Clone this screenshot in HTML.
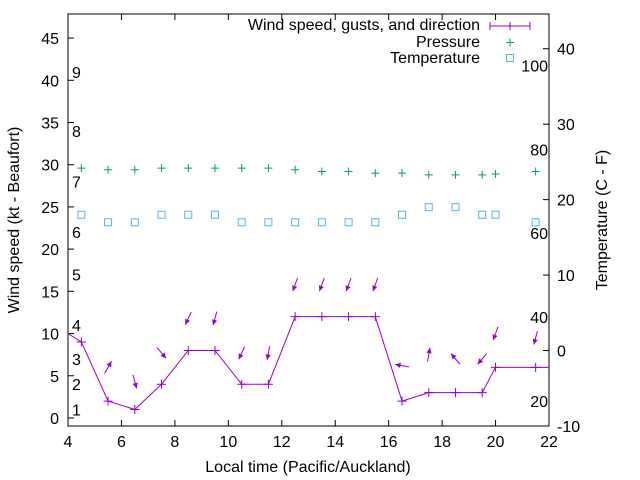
<!DOCTYPE html>
<html><head><meta charset="utf-8"><style>
body{margin:0;background:#fff}
svg{display:block;font-family:"Liberation Sans",sans-serif}
</style></head><body>
<svg id="chart" width="640" height="480" viewBox="0 0 640 480" xmlns="http://www.w3.org/2000/svg">
<g id="axes"></g>
<g id="series"></g>
</svg>
<script>
const times=[4.5,5.5,6.5,7.5,8.5,9.5,10.5,11.5,12.5,13.5,14.5,15.5,16.5,17.5,18.5,19.5,20,21.5];
const windSpeed=[9,2,1,4,8,8,4,4,12,12,12,12,2,3,3,3,6,6];
const gusts=[null,6,4.3,7.7,11.8,11.8,7.7,7.7,15.8,15.8,15.8,15.8,6.2,7.5,7,7,10,9.5];
const windDir=[null,30,165,140,205,195,205,190,200,200,200,200,280,10,320,220,200,195];
const pressure=[29.6,29.4,29.4,29.6,29.6,29.6,29.6,29.6,29.4,29.2,29.2,29.0,29.0,28.8,28.8,28.8,28.9,29.2];
const temperature=[18,17,17,18,18,18,17,17,17,17,17,17,18,19,19,18,18,17];
const xTicks=[4,6,8,10,12,14,16,18,20,22];
const yTicks=[0,5,10,15,20,25,30,35,40,45];
const y2Ticks=[-10,0,10,20,30,40];
const beaufortLabels=["1","2","3","4","5","6","7","8","9"];
const beaufortKt=[1,4,7,11,17,22,28,34,41];
const fLabels=["20","40","60","80","100"];
const fValues=[20,40,60,80,100];

const FS=16;
const L=68,R=549,T=14,B=426;
const X=v=>L+(v-4)/(22-4)*(R-L);
const Y=v=>B-(v+0.95)/(47.85+0.95)*(B-T);
const Y2=v=>B-(v+10)/(54.6)*(B-T);
const NS="http://www.w3.org/2000/svg";
function mk(tag,attrs,parent,text){const e=document.createElementNS(NS,tag);for(const k in attrs)e.setAttribute(k,attrs[k]);if(text!==undefined)e.textContent=text;parent.appendChild(e);return e;}
const ax=document.getElementById('axes'),se=document.getElementById('series');

let e=mk('rect',{x:L,y:T,width:R-L,height:B-T,fill:'none',stroke:'#000','stroke-width':1},ax);


xTicks.forEach(t=>{
 mk('line',{x1:X(t),x2:X(t),y1:B,y2:B-6,stroke:'#000'},ax);
 mk('line',{x1:X(t),x2:X(t),y1:T,y2:T+6,stroke:'#000'},ax);
 const tx=mk('text',{x:X(t),y:B+21,'text-anchor':'middle','font-size':FS},ax,String(t));
 
 
});
yTicks.forEach(t=>{
 mk('line',{x1:L,x2:L+6,y1:Y(t),y2:Y(t),stroke:'#000'},ax);
 const tx=mk('text',{x:L-9,y:Y(t)+6,'text-anchor':'end','font-size':FS},ax,String(t));
 
 
});
y2Ticks.forEach(t=>{
 mk('line',{x1:R,x2:R-6,y1:Y2(t),y2:Y2(t),stroke:'#000'},ax);
 const tx=mk('text',{x:R+8,y:Y2(t)+6,'text-anchor':'start','font-size':FS},ax,String(t));
 
 
});
beaufortLabels.forEach((s,i)=>{
 const tx=mk('text',{x:72,y:Y(beaufortKt[i])+6,'font-size':FS},ax,s);
 
 
});
fLabels.forEach((s,i)=>{
 const tx=mk('text',{x:548,y:Y2((fValues[i]-32)*5/9)+6,'text-anchor':'end','font-size':FS},ax,s);
 
 
});
e=mk('text',{x:308,y:472,'text-anchor':'middle','font-size':FS},ax,'Local time (Pacific/Auckland)');


e=mk('text',{x:0,y:0,'text-anchor':'middle','font-size':FS,transform:'translate(19,220) rotate(-90)'},ax,'Wind speed (kt - Beaufort)');


e=mk('text',{x:0,y:0,'text-anchor':'middle','font-size':FS,transform:'translate(607,220) rotate(-90)'},ax,'Temperature (C - F)');



const defs=mk('defs',{},se);const cp=mk('clipPath',{id:'clip'},defs);mk('rect',{x:L,y:T,width:R-L,height:B-T},cp);
const g=mk('g',{'clip-path':'url(#clip)'},se);
const WC='#9400d3';
const ext=[[3.5,11],...times.map((t,i)=>[t,windSpeed[i]]),[22.5,6]];
e=mk('polyline',{points:ext.map(p=>X(p[0])+','+Y(p[1])).join(' '),fill:'none',stroke:WC,'stroke-width':1},g);


times.forEach((t,i)=>{
 const x=X(t),y=Y(windSpeed[i]);
 const p=mk('path',{d:`M${x-4.5},${y}h9M${x},${y-4.5}v9`,stroke:WC,'stroke-width':1},g);
 
 
 if(gusts[i]!==null){
  const a=windDir[i]*Math.PI/180,len=14;
  const cx=X(t),cy=Y(gusts[i]);
  const dx=Math.sin(a)*len/2,dy=-Math.cos(a)*len/2;
  const hx=cx+dx,hy=cy+dy;
  const ar=mk('g',{},g);
  
  
  mk('line',{x1:cx-dx,y1:cy-dy,x2:hx,y2:hy,stroke:WC,'stroke-width':1},ar);
  const b1=a+Math.PI-0.45,b2=a+Math.PI+0.45,hl=6;
  mk('polygon',{points:`${hx},${hy} ${hx+Math.sin(b1)*hl},${hy-Math.cos(b1)*hl} ${hx+Math.sin(b2)*hl},${hy-Math.cos(b2)*hl}`,fill:WC},ar);
 }
 const px=X(t),py=Y(pressure[i]);
 const pp=mk('path',{d:`M${px-4},${py}h8M${px},${py-4}v8`,stroke:'#009e73','stroke-width':1},g);
 
 
 const tr=mk('rect',{x:X(t)-3.5,y:Y2(temperature[i])-3.5,width:7,height:7,fill:'none',stroke:'#56b4e9','stroke-width':1},g);
 
 
});
const lg=mk('g',{},se);


e=mk('text',{x:480,y:30,'text-anchor':'end','font-size':FS},lg,'Wind speed, gusts, and direction');


mk('path',{d:'M490,26h40M490,22v8M530,22v8M510,22v8',stroke:WC,'stroke-width':1},lg);
e=mk('text',{x:480,y:47,'text-anchor':'end','font-size':FS},lg,'Pressure');


mk('path',{d:'M506,42.5h8M510,38.5v8',stroke:'#009e73'},lg);
e=mk('text',{x:480,y:63,'text-anchor':'end','font-size':FS},lg,'Temperature');


mk('rect',{x:506.5,y:54.5,width:7,height:7,fill:'none',stroke:'#56b4e9'},lg);
</script>
</body></html>
